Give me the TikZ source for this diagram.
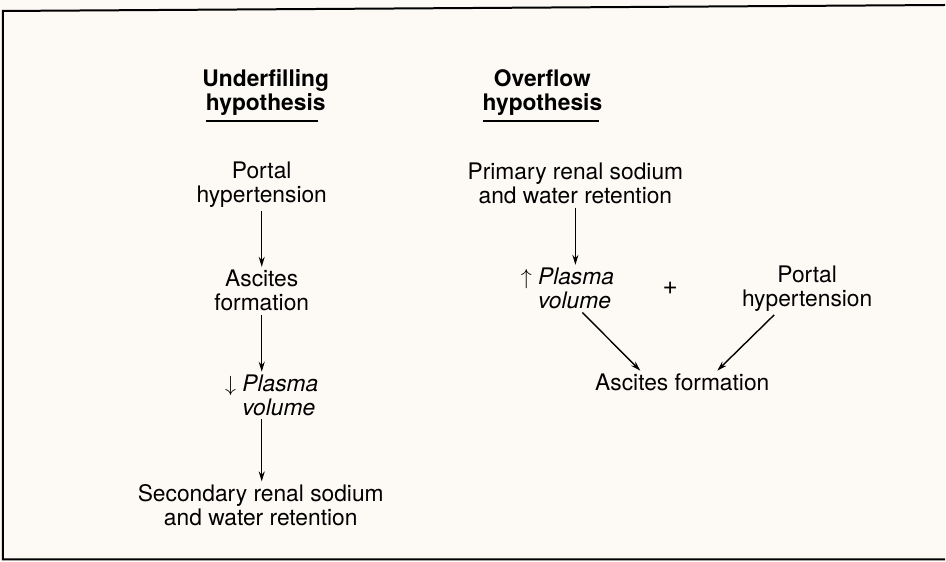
\documentclass[tikz,border=0pt]{standalone}
\usepackage{fontspec}
\setmainfont{TeX Gyre Heros}
\usetikzlibrary{arrows.meta,calc}
\definecolor{paper}{RGB}{253,249,245}

\begin{document}
\begin{tikzpicture}[x=0.5pt,y=-0.5pt,
 font=\fontsize{11.4}{12}\selectfont,
 txt/.style={align=center,inner sep=1.5pt},
 hd/.style={align=center,inner sep=1pt,font=\fontsize{11.4}{12}\selectfont\bfseries},
 arr/.style={-{Stealth[length=5pt,width=3pt]},line width=0.7pt},
 ul/.style={line width=0.7pt},
 frm/.style={line width=1pt}]
\fill[paper] (0,0) rectangle (946,562);
\draw[frm] (946,5) -- (3,11) -- (3,560) -- (946,560);
% underfilling column
\node[hd] (u0) at (266,93) {Underfilling\\hypothesis};
\draw[ul] (206,121) -- (318,121);
\node[txt] (u1) at (262,185) {Portal\\hypertension};
\node[txt] (u2) at (262,291) {Ascites\\formation};
\node[txt,align=left] (u3) at (272,396) {$\downarrow$ \textit{Plasma}\\\hphantom{$\downarrow$ }\textit{volume}};
\node[txt] (u4) at (261,506) {Secondary renal sodium\\and water retention};
\draw[arr] (u1.south) -- (u1.south |- u2.north);
\draw[arr] (u2.south) -- (u2.south |- u3.north);
\draw[arr] (u2.south |- u3.south) -- (u2.south |- u4.north);
% overflow column
\node[hd] (o0) at (543,93) {Overflow\\hypothesis};
\draw[ul] (484,121) -- (600,121);
\node[txt] (o1) at (576,184) {Primary renal sodium\\and water retention};
\node[txt,align=left] (o2) at (568,289) {$\uparrow$ \textit{Plasma}\\\hphantom{$\uparrow$ }\textit{volume}};
\node[txt,font=\fontsize{13}{12}\selectfont] (pl) at (671,289) {+};
\node[txt] (o3) at (808,289) {Portal\\hypertension};
\node[txt] (o4) at (683,383) {Ascites formation};
\draw[arr] (o1.south) -- (o1.south |- o2.north);
\draw[arr] ($(o2.south)+(15,0)$) -- ($(o4.north)+(-42,0)$);
\draw[arr] ($(o3.south)+(-33,0)$) -- ($(o4.north)+(35,0)$);
\end{tikzpicture}
\end{document}
